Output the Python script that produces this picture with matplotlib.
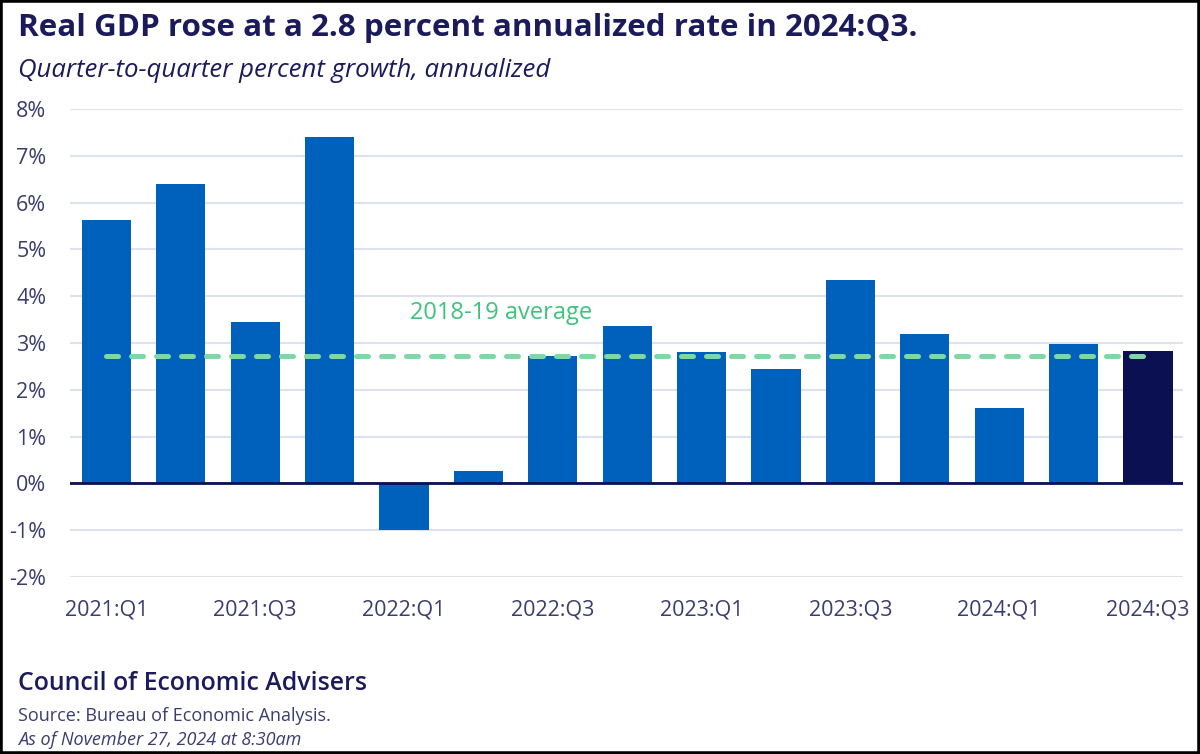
import numpy as np
import matplotlib.pyplot as plt
from matplotlib.patches import Rectangle

# data
quarters = ['2021:Q1', '2021:Q2', '2021:Q3', '2021:Q4',
            '2022:Q1', '2022:Q2', '2022:Q3', '2022:Q4',
            '2023:Q1', '2023:Q2', '2023:Q3', '2023:Q4',
            '2024:Q1', '2024:Q2', '2024:Q3']
growth = [5.63, 6.4, 3.45, 7.4, -1.0, 0.27, 2.72, 3.36, 2.8, 2.45, 4.35, 3.2, 1.62, 2.98, 2.83]
avg_2018_19 = 2.72
y_ticks = [-2, -1, 0, 1, 2, 3, 4, 5, 6, 7, 8]

plt.rcParams['font.family'] = ['Open Sans', 'DejaVu Sans']

navy = '#1b1b5c'
tick_col = '#3b3d6e'
bar_col = '#0061bd'
last_col = '#0b1053'

fig = plt.figure(figsize=(12, 7.54), dpi=100)
ax = fig.add_axes([0.0583, 0.2347, 0.9275, 0.6207])

x = np.arange(len(quarters))
colors = [bar_col] * (len(quarters) - 1) + [last_col]
ax.bar(x, growth, width=0.66, color=colors, zorder=2)

ax.axhline(0, color=last_col, lw=2, zorder=3)
ax.plot([x[0], x[-1]], [avg_2018_19, avg_2018_19], color='#80d7a6', lw=3.6,
        linestyle=(0, (2.4, 2.6)), dash_capstyle='round', zorder=4)
ax.text(4.08, 3.64, '2018-19 average', color='#3ec27d', fontsize=17,
        ha='left', va='center', zorder=5)

ax.set_xlim(-0.49, 14.47)
ax.set_ylim(-2, 8)
ax.set_yticks(y_ticks)
ax.set_yticklabels([f'{t}%' for t in y_ticks])
ax.set_xticks(x[::2])
ax.set_xticklabels(quarters[::2])
ax.yaxis.grid(True, color='#dde2ee', lw=1.5, zorder=0)
ax.tick_params(axis='both', length=0, labelsize=15.5, colors=tick_col)
ax.tick_params(axis='y', pad=17)
ax.tick_params(axis='x', pad=16)
for s in ax.spines.values():
    s.set_visible(False)

fig.text(0.015, 0.963, 'Real GDP rose at a 2.8 percent annualized rate in 2024:Q3.',
         fontsize=22.6, fontweight='bold', color=navy, ha='left', va='center')
fig.text(0.015, 0.907, 'Quarter-to-quarter percent growth, annualized',
         fontsize=18.5, style='italic', color=navy, ha='left', va='center')
fig.text(0.015, 0.094, 'Council of Economic Advisers',
         fontsize=17.9, fontweight='semibold', color=navy, ha='left', va='center')
fig.text(0.015, 0.050, 'Source: Bureau of Economic Analysis.',
         fontsize=13, color=tick_col, ha='left', va='center')
fig.text(0.015, 0.019, 'As of November 27, 2024 at 8:30am',
         fontsize=13, style='italic', color=tick_col, ha='left', va='center')

fig.patches.append(Rectangle((0, 0), 1, 1, transform=fig.transFigure,
                             fill=False, edgecolor='black', lw=4))

fig.savefig('out.png', dpi=100)
